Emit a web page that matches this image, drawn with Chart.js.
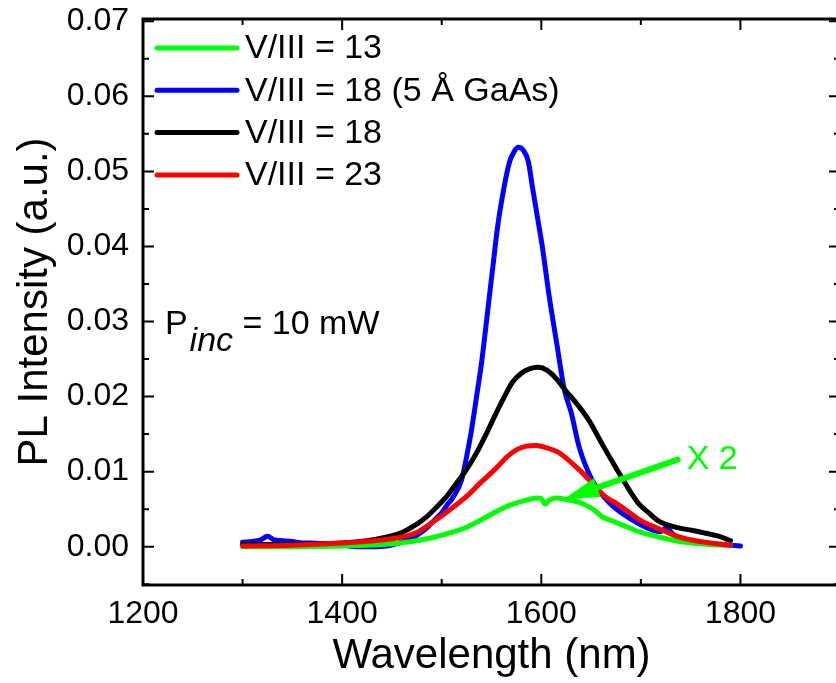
<!DOCTYPE html>
<html>
<head>
<meta charset="utf-8">
<script src="https://cdn.jsdelivr.net/npm/chart.js@4.4.0/dist/chart.umd.min.js"></script>
<style>
  html, body { margin: 0; padding: 0; background: #fff; overflow: hidden; }
  #wrap { width: 836px; height: 683px; overflow: hidden; }
</style>
</head>
<body>
<div id="wrap"><canvas id="plChart" width="850" height="683"></canvas></div>
<script>
// PL spectra, wavelength in nm, intensity in a.u.
const wlGreen = [1300,1350,1400,1440,1470,1490,1510,1525,1540,1555,1570,1585,1596,1600,1604,1608,1615,1625,1638,1648,1655,1661,1672,1685,1700,1718,1735,1751,1770,1790];
const plGreen = [0.0000,0.0000,0.0001,0.0003,0.0007,0.0012,0.0019,0.0026,0.0036,0.0047,0.0056,0.0062,0.0065,0.0064,0.0057,0.0062,0.0065,0.0063,0.0059,0.0053,0.0047,0.0040,0.0034,0.0027,0.0019,0.0013,0.0008,0.0005,0.0003,0.0002];

const wlBlue = [1300,1310,1318,1325,1332,1340,1350,1360,1370,1380,1390,1400,1415,1430,1445,1455,1465,1475,1485,1493,1500,1505,1511,1520,1525,1530,1535,1540,1544,1548,1552,1556,1561,1568,1573,1577,1582,1587,1591,1596,1601,1608,1616,1623,1630,1638,1651,1668,1691,1712,1720,1726,1732,1752,1770,1790,1800];
const plBlue = [0.0006,0.0007,0.0009,0.0014,0.0009,0.0008,0.0007,0.0005,0.0005,0.0004,0.0003,0.0002,0.0000,0.0000,0.0001,0.0004,0.0009,0.0015,0.0025,0.0036,0.0045,0.0055,0.0065,0.0089,0.0120,0.0156,0.0200,0.0245,0.0289,0.0335,0.0380,0.0425,0.0467,0.0512,0.0527,0.0532,0.0528,0.0513,0.0480,0.0440,0.0400,0.0333,0.0267,0.0210,0.0179,0.0133,0.0089,0.0059,0.0036,0.0022,0.0020,0.0026,0.0017,0.0007,0.0004,0.0002,0.0001];

const wlBlack = [1300,1340,1380,1400,1425,1445,1460,1475,1485,1495,1505,1515,1525,1535,1545,1555,1563,1571,1580,1588,1597,1606,1615,1625,1636,1648,1661,1675,1691,1698,1708,1718,1738,1751,1765,1778,1790];
const plBlack = [0.0003,0.0003,0.0004,0.0005,0.0008,0.0013,0.0019,0.0030,0.0040,0.0053,0.0067,0.0085,0.0103,0.0125,0.0151,0.0179,0.0200,0.0219,0.0231,0.0237,0.0239,0.0235,0.0224,0.0207,0.0190,0.0168,0.0137,0.0105,0.0070,0.0057,0.0045,0.0034,0.0025,0.0022,0.0018,0.0014,0.0008];

const wlRed = [1300,1350,1400,1440,1460,1475,1490,1508,1525,1538,1555,1565,1575,1585,1595,1605,1618,1625,1640,1651,1665,1675,1685,1701,1718,1738,1751,1770,1790];
const plRed = [0.0001,0.0002,0.0005,0.0009,0.0013,0.0019,0.0032,0.0049,0.0067,0.0084,0.0105,0.0119,0.0129,0.0134,0.0135,0.0132,0.0125,0.0118,0.0100,0.0085,0.0066,0.0058,0.0049,0.0034,0.0024,0.0013,0.0009,0.0005,0.0002];

const seriesLabels = ['V/III = 13', 'V/III = 18 (5 Å GaAs)', 'V/III = 18', 'V/III = 23'];
const seriesColors = ['#00ff00', '#0000ff', '#000000', '#ff0000'];

const xTickValues = [1200, 1400, 1600, 1800];
const xMinorValues = [1300, 1500, 1700, 1900];
const yTickValues = [0.00, 0.01, 0.02, 0.03, 0.04, 0.05, 0.06, 0.07];
const yMinorValues = [-0.005, 0.005, 0.015, 0.025, 0.035, 0.045, 0.055, 0.065];

const FONT = "'Liberation Sans', Arial, sans-serif";

function toPoints(xs, ys) {
  return xs.map((x, i) => ({ x: x, y: ys[i] }));
}

// frame + inward ticks on all four sides
const framePlugin = {
  id: 'frame',
  afterDraw(chart) {
    const { ctx, chartArea: a, scales: { x, y } } = chart;
    ctx.save();
    ctx.strokeStyle = '#000';
    ctx.lineWidth = 2;
    const tick = (val, len, isX) => {
      if (isX) {
        const px = x.getPixelForValue(val);
        if (px < a.left - 1 || px > a.right + 1) return;
        ctx.beginPath();
        ctx.moveTo(px, a.bottom); ctx.lineTo(px, a.bottom - len);
        ctx.moveTo(px, a.top); ctx.lineTo(px, a.top + len);
        ctx.stroke();
      } else {
        const py = y.getPixelForValue(val);
        if (py < a.top - 1 || py > a.bottom + 1) return;
        ctx.beginPath();
        ctx.moveTo(a.left, py); ctx.lineTo(a.left + len, py);
        ctx.moveTo(a.right, py); ctx.lineTo(a.right - len, py);
        ctx.stroke();
      }
    };
    xTickValues.forEach(v => tick(v, 11, true));
    xMinorValues.forEach(v => tick(v, 6, true));
    yTickValues.forEach(v => tick(v, 11, false));
    yMinorValues.forEach(v => tick(v, 6, false));
    ctx.lineWidth = 3;
    ctx.strokeRect(a.left, a.top, a.right - a.left, a.bottom - a.top);
    ctx.restore();
  }
};

// legend, P_inc label, "X 2" arrow
const notesPlugin = {
  id: 'notes',
  afterDraw(chart) {
    const { ctx, chartArea: a, scales: { x, y } } = chart;
    ctx.save();
    ctx.font = '34px ' + FONT;
    ctx.textBaseline = 'middle';
    ctx.lineCap = 'round';
    seriesLabels.forEach((lab, i) => {
      const yy = a.top + 29 + i * 42.3;
      ctx.strokeStyle = seriesColors[i];
      ctx.lineWidth = 5;
      ctx.beginPath();
      ctx.moveTo(a.left + 14, yy);
      ctx.lineTo(a.left + 94, yy);
      ctx.stroke();
      ctx.fillStyle = '#000';
      ctx.fillText(lab, a.left + 102, yy + 1);
    });

    // P_inc = 10 mW
    ctx.textBaseline = 'alphabetic';
    let px = x.getPixelForValue(1222);
    const py = y.getPixelForValue(0.0283);
    ctx.fillText('P', px, py);
    px += ctx.measureText('P').width + 2;
    ctx.font = 'italic 34px ' + FONT;
    ctx.fillText('inc', px, py + 17);
    px += ctx.measureText('inc').width;
    ctx.font = '34px ' + FONT;
    ctx.fillText(' = 10 mW', px, py);

    // X 2 arrow
    const sx = x.getPixelForValue(1737), sy = y.getPixelForValue(0.0116);
    const tx = x.getPixelForValue(1622), ty = y.getPixelForValue(0.0063);
    const dx = sx - tx, dy = sy - ty, len = Math.hypot(dx, dy);
    const ux = dx / len, uy = dy / len;
    const bx = tx + ux * 36, by = ty + uy * 36;
    ctx.strokeStyle = '#00ff00';
    ctx.fillStyle = '#00ff00';
    ctx.lineWidth = 6;
    ctx.lineCap = 'round';
    ctx.beginPath();
    ctx.moveTo(sx, sy);
    ctx.lineTo(bx, by);
    ctx.stroke();
    ctx.beginPath();
    ctx.moveTo(tx, ty);
    ctx.lineTo(bx - uy * 10, by + ux * 10);
    ctx.lineTo(bx + uy * 10, by - ux * 10);
    ctx.closePath();
    ctx.fill();
    ctx.textBaseline = 'middle';
    ctx.fillText('X 2', x.getPixelForValue(1746), y.getPixelForValue(0.0116));
    ctx.restore();
  }
};

const ctx = document.getElementById('plChart').getContext('2d');

const chart = new Chart(ctx, {
  type: 'line',
  data: {
    datasets: [
      { label: seriesLabels[0], data: toPoints(wlGreen, plGreen), borderColor: seriesColors[0], order: 1 },
      { label: seriesLabels[1], data: toPoints(wlBlue, plBlue), borderColor: seriesColors[1], order: 3 },
      { label: seriesLabels[2], data: toPoints(wlBlack, plBlack), borderColor: seriesColors[2], order: 2 },
      { label: seriesLabels[3], data: toPoints(wlRed, plRed), borderColor: seriesColors[3], order: 0 }
    ]
  },
  options: {
    responsive: false,
    animation: false,
    events: [],
    elements: {
      point: { radius: 0 },
      line: { borderWidth: 5, cubicInterpolationMode: 'monotone', borderCapStyle: 'round', borderJoinStyle: 'round', fill: false }
    },
    layout: { padding: { top: 19, right: 10, left: 0, bottom: 0 } },
    plugins: { legend: { display: false }, tooltip: { enabled: false } },
    scales: {
      x: {
        type: 'linear',
        min: 1200,
        max: 1900,
        afterBuildTicks: s => { s.ticks = xTickValues.map(v => ({ value: v })); },
        afterFit: s => { s.height = 98; s.paddingLeft = 0; s.paddingRight = 0; },
        grid: { display: false, drawTicks: false },
        border: { display: false },
        ticks: { color: '#000', font: { family: FONT, size: 32 }, padding: 10, maxRotation: 0, callback: v => String(v) },
        title: { display: true, text: 'Wavelength (nm)', color: '#000', font: { family: FONT, size: 42 }, padding: { top: 0, bottom: 1 } }
      },
      y: {
        min: -0.0051,
        max: 0.0703,
        afterBuildTicks: s => { s.ticks = yTickValues.map(v => ({ value: v })); },
        afterFit: s => { s.width = 143; s.paddingTop = 0; s.paddingBottom = 0; },
        grid: { display: false, drawTicks: false },
        border: { display: false },
        ticks: { color: '#000', font: { family: FONT, size: 32 }, padding: 14, callback: v => v.toFixed(2) },
        title: { display: true, text: 'PL Intensity (a.u.)', color: '#000', font: { family: FONT, size: 42 }, padding: { top: 10, bottom: 0 } }
      }
    }
  },
  plugins: [framePlugin, notesPlugin]
});
</script>
</body>
</html>
